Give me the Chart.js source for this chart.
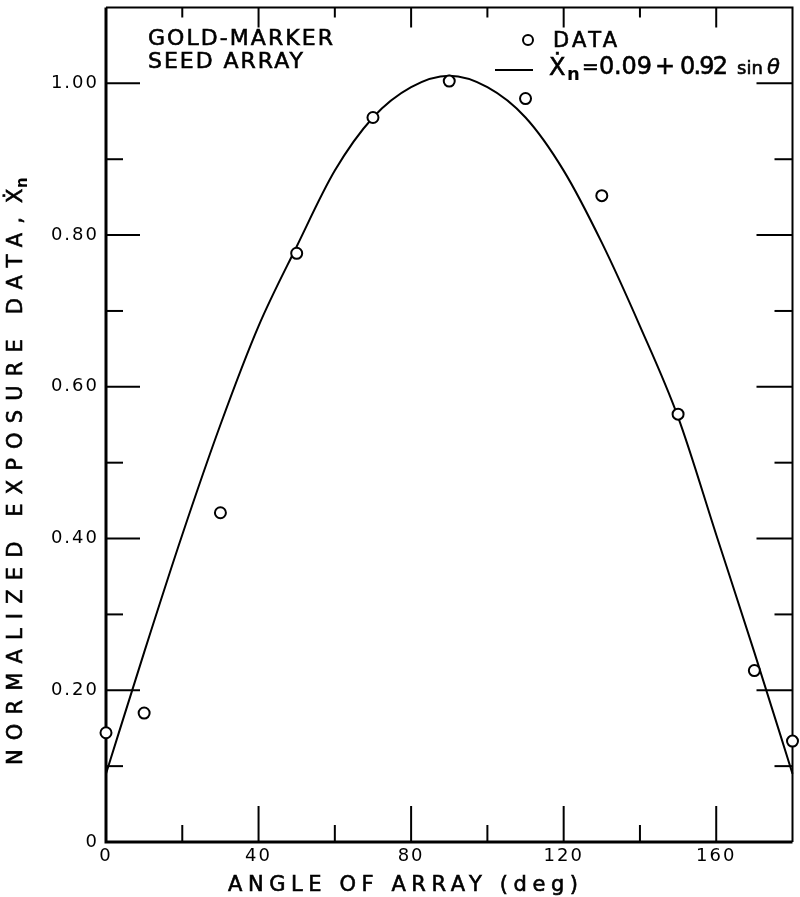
<!DOCTYPE html>
<html>
<head>
<meta charset="utf-8">
<script src="https://cdn.jsdelivr.net/npm/chart.js@4.4.1/dist/chart.umd.min.js"></script>
<style>
  html, body { margin: 0; padding: 0; background: #fff; }
  #wrap { width: 800px; height: 897px; }
</style>
</head>
<body>
<div id="wrap"><canvas id="myChart" width="800" height="897"></canvas></div>
<script>
// Measured exposure points (angle in deg -> normalized exposure)
var dataAngles = [0, 10, 30, 50, 70, 90, 110, 130, 150, 170, 180];
var dataValues = [0.144, 0.170, 0.434, 0.776, 0.955, 1.003, 0.980, 0.852, 0.564, 0.226, 0.133];

// Fitted curve every 10 deg (Xn = 0.09 + 0.92 sin theta)
var fitAngles = [0, 10, 20, 30, 40, 50, 60, 70, 80, 90, 100, 110, 120, 130, 140, 150, 160, 170, 180];
var fitValues = [0.09, 0.25, 0.405, 0.55, 0.68, 0.785, 0.885, 0.955, 0.995, 1.01, 0.995, 0.955, 0.885, 0.79, 0.68, 0.56, 0.405, 0.25, 0.09];

// Axis ticks
var xTickValues = [0, 40, 80, 120, 160];
var xTickLabels = ['0', '40', '80', '120', '160'];
var yTickValues = [0, 0.2, 0.4, 0.6, 0.8, 1.0];
var yTickLabels = ['0', '0.20', '0.40', '0.60', '0.80', '1.00'];

var FONT = '"DejaVu Sans", sans-serif';

// draw text so its glyphs cover a given length, slightly heavier strokes like the lettering
function spacedText(ctx, text, x, y, span) {
  ctx.letterSpacing = '0px';
  var w = ctx.measureText(text).width;
  var gap = (span - w) / (text.length - 1);
  ctx.letterSpacing = gap + 'px';
  ctx.fillText(text, x, y);
  ctx.strokeText(text, x, y);
  ctx.letterSpacing = '0px';
}

function heavyText(ctx, text, x, y) {
  ctx.fillText(text, x, y);
  ctx.strokeText(text, x, y);
}

function line(ctx, x1, y1, x2, y2) {
  ctx.beginPath();
  ctx.moveTo(x1, y1);
  ctx.lineTo(x2, y2);
  ctx.stroke();
}

// frame + inward ticks on all four sides
var framePlugin = {
  id: 'frame',
  beforeDraw: function (chart) {
    chart.ctx.letterSpacing = '2px';  // wide lettering for tick labels
  },
  beforeDatasetsDraw: function (chart) {
    var ctx = chart.ctx, a = chart.chartArea;
    var xs = chart.scales.x, ys = chart.scales.y;
    ctx.save();
    ctx.strokeStyle = '#000';
    ctx.lineWidth = 3;
    ctx.beginPath();
    ctx.moveTo(a.left, a.top);
    ctx.lineTo(a.left, a.bottom);
    ctx.lineTo(a.right, a.bottom);
    ctx.stroke();
    ctx.lineWidth = 2;
    ctx.beginPath();
    ctx.moveTo(a.left, a.top);
    ctx.lineTo(a.right, a.top);
    ctx.lineTo(a.right, a.bottom);
    ctx.stroke();

    for (var v = 20; v < 180; v += 20) {
      var px = xs.getPixelForValue(v);
      var major = v % 40 === 0;
      line(ctx, px, a.bottom, px, a.bottom - (major ? 36 : 17));
      line(ctx, px, a.top, px, a.top + (major ? 20 : 10));
    }
    for (var k = 1; k <= 10; k++) {
      var py = ys.getPixelForValue(k / 10);
      var big = k % 2 === 0;
      line(ctx, a.left, py, a.left + (big ? 34 : 17), py);
      line(ctx, a.right, py, a.right - (big ? 36 : 18), py);
    }
    ctx.restore();
  },
  afterDraw: function (chart) {
    var ctx = chart.ctx;
    ctx.save();
    ctx.fillStyle = '#000';
    ctx.strokeStyle = '#000';
    ctx.lineWidth = 0.6;
    ctx.textAlign = 'left';
    ctx.textBaseline = 'alphabetic';

    // x axis title
    ctx.font = '21px ' + FONT;
    spacedText(ctx, 'ANGLE OF ARRAY (deg)', 228, 891, 350);

    // y axis title (rotated)
    ctx.save();
    ctx.translate(22, 765);
    ctx.rotate(-Math.PI / 2);
    ctx.font = '21px ' + FONT;
    spacedText(ctx, 'NORMALIZED EXPOSURE DATA,', 0, 0, 548);
    heavyText(ctx, '\u1E8A', 562, 0);
    ctx.font = 'bold 15px ' + FONT;
    ctx.fillText('n', 577, 5);
    ctx.restore();

    // annotation top left
    ctx.font = '22px ' + FONT;
    spacedText(ctx, 'GOLD-MARKER', 148, 45, 185);
    spacedText(ctx, 'SEED ARRAY', 148, 68, 155);

    // legend
    ctx.lineWidth = 2;
    ctx.beginPath();
    ctx.arc(528, 40, 5, 0, Math.PI * 2);
    ctx.stroke();
    line(ctx, 495, 70, 533, 70);
    ctx.lineWidth = 0.6;
    ctx.font = '21px ' + FONT;
    spacedText(ctx, 'DATA', 553, 47, 64);
    ctx.font = '24px ' + FONT;
    heavyText(ctx, '\u1E8A', 549, 75);
    ctx.font = 'bold 18px ' + FONT;
    ctx.fillText('n', 567, 80);
    ctx.font = '20px ' + FONT;
    heavyText(ctx, '=', 582, 73);
    ctx.font = '24px ' + FONT;
    spacedText(ctx, '0.09', 599, 74, 53);
    heavyText(ctx, '+', 655, 74);
    spacedText(ctx, '0.92', 680, 74, 48);
    ctx.font = '18px ' + FONT;
    heavyText(ctx, 'sin', 737, 74);
    ctx.font = 'italic 21px ' + FONT;
    heavyText(ctx, '\u03B8', 767, 74);
    ctx.restore();
  }
};

var ctx = document.getElementById('myChart').getContext('2d');
var myChart = new Chart(ctx, {
  type: 'scatter',
  data: {
    datasets: [{
      label: 'DATA',
      data: dataAngles.map(function (a, i) { return { x: a, y: dataValues[i] }; }),
      pointRadius: 5.5,
      pointBorderWidth: 2,
      pointBackgroundColor: '#fff',
      pointBorderColor: '#000',
      clip: false
    }, {
      label: 'Xn = 0.09 + 0.92 sin',
      data: fitAngles.map(function (a, i) { return { x: a, y: fitValues[i] }; }),
      showLine: true,
      borderColor: '#000',
      borderWidth: 2,
      pointRadius: 0,
      cubicInterpolationMode: 'monotone',
      clip: false
    }]
  },
  options: {
    responsive: false,
    animation: false,
    layout: { padding: { top: -5, right: 5, left: 0, bottom: 0 } },
    plugins: {
      legend: { display: false },
      tooltip: { enabled: false }
    },
    scales: {
      x: {
        type: 'linear',
        min: 0,
        max: 180,
        afterFit: function (s) {
          s.height = 55;
          s.paddingLeft = 0;
          s.paddingRight = 0;
        },
        afterBuildTicks: function (s) {
          s.ticks = xTickValues.map(function (v) { return { value: v }; });
        },
        grid: { display: false, drawTicks: false },
        border: { display: false },
        ticks: {
          color: '#000',
          padding: 4,
          maxRotation: 0,
          font: { family: FONT, size: 18 },
          callback: function (v, i) { return xTickLabels[i]; }
        }
      },
      y: {
        type: 'linear',
        min: 0,
        max: 1.1,
        afterFit: function (s) {
          s.width = 106;
          s.paddingTop = 0;
          s.paddingBottom = 0;
        },
        afterBuildTicks: function (s) {
          s.ticks = yTickValues.map(function (v) { return { value: v }; });
        },
        grid: { display: false, drawTicks: false },
        border: { display: false },
        ticks: {
          color: '#000',
          padding: 7,
          font: { family: FONT, size: 18 },
          callback: function (v, i) { return yTickLabels[i]; }
        }
      }
    }
  },
  plugins: [framePlugin]
});
</script>
</body>
</html>
